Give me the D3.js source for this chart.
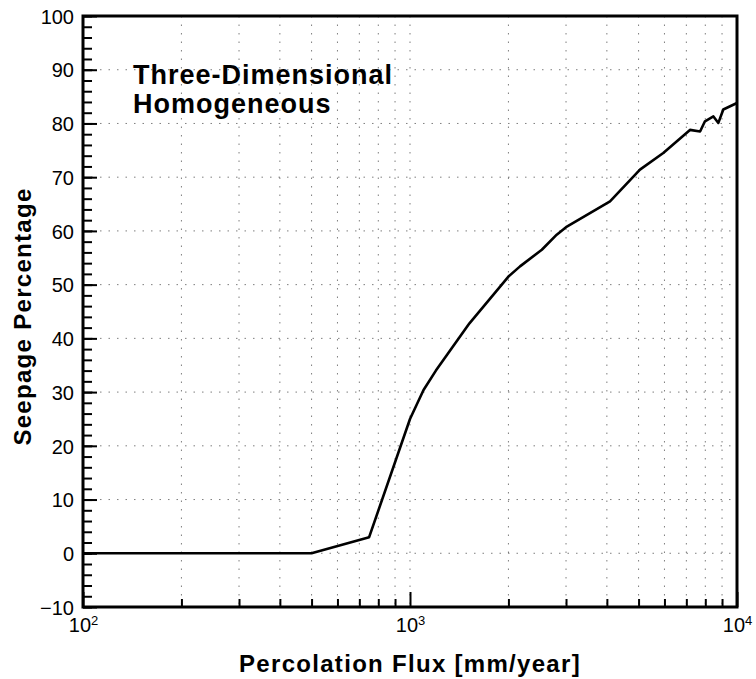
<!DOCTYPE html>
<html>
<head>
<meta charset="utf-8">
<script src="https://cdn.jsdelivr.net/npm/d3@7"></script>
<style>
  body { margin: 0; background: #fff; }
  svg text { font-family: "Liberation Sans", Arial, sans-serif; fill: #000; }
  .axis path { display: none; }
  .axis line { stroke: #000; stroke-width: 2; }
  .grid line { stroke: #000; stroke-width: 1; stroke-dasharray: 1.5,7; opacity: 0.5; }
</style>
</head>
<body>
<svg id="chart" width="756" height="679"></svg>
<script>
// Seepage curve
const flux = [100, 500, 750, 1000, 1100, 1200, 1300, 1520, 2000, 2170, 2530, 2810, 3000, 4090, 5050, 5950, 7180, 7710, 7980, 8470, 8770, 9080, 10000];
const seepage = [0, 0, 3, 25, 30.4, 34, 37, 42.8, 51.5, 53.4, 56.5, 59.3, 60.7, 65.5, 71.4, 74.5, 78.8, 78.5, 80.4, 81.3, 80.1, 82.6, 83.8];

const yMajor = [-10, 0, 10, 20, 30, 40, 50, 60, 70, 80, 90, 100];
const xMajor = [100, 1000, 10000];
const xMinor = [200, 300, 400, 500, 600, 700, 800, 900, 2000, 3000, 4000, 5000, 6000, 7000, 8000, 9000];

const title = ["Three-Dimensional", "Homogeneous"];
const xTitle = "Percolation Flux [mm/year]";
const yTitle = "Seepage Percentage";

const width = 756, height = 679;
const margin = { left: 83, right: 19, top: 16, bottom: 72 };
const drawWidth = width - margin.left - margin.right;
const drawHeight = height - margin.top - margin.bottom;

const svg = d3.select("#chart");
const g = svg.append("g").attr("transform", `translate(${margin.left},${margin.top})`);

const xScale = d3.scaleLog().domain([100, 10000]).range([0, drawWidth]);
const yScale = d3.scaleLinear().domain([-10, 100]).range([drawHeight, 0]);

// dotted grid
g.append("g").attr("class", "grid")
    .selectAll("line").data(xMinor.concat([1000])).enter().append("line")
    .attr("x1", d => xScale(d)).attr("x2", d => xScale(d))
    .attr("y1", 0).attr("y2", drawHeight);
g.append("g").attr("class", "grid")
    .selectAll("line").data(yMajor.slice(1, -1)).enter().append("line")
    .attr("x1", 0).attr("x2", drawWidth)
    .attr("y1", d => yScale(d)).attr("y2", d => yScale(d));

// y axis (ticks point inward)
const yMinorAxis = d3.axisLeft(yScale).tickValues(d3.range(-10, 101, 2)).tickFormat("").tickSizeInner(-9).tickSizeOuter(0);
g.append("g").attr("class", "axis").call(yMinorAxis);
const yAxis = d3.axisLeft(yScale).tickValues(yMajor).tickSizeInner(-14).tickSizeOuter(0).tickPadding(9);
g.append("g").attr("class", "axis").call(yAxis)
    .selectAll("text").attr("font-size", 20).attr("dy", "0.36em");

// x axis
const xMinorAxis = d3.axisBottom(xScale).tickValues(xMinor).tickFormat("").tickSizeInner(-8).tickSizeOuter(0);
g.append("g").attr("class", "axis").attr("transform", `translate(0,${drawHeight})`).call(xMinorAxis);
const xAxis = d3.axisBottom(xScale).tickValues(xMajor).tickSizeInner(-15).tickSizeOuter(0).tickPadding(11);
g.append("g").attr("class", "axis").attr("transform", `translate(0,${drawHeight})`).call(xAxis)
    .selectAll("text")
    .attr("font-size", 20)
    .each(function (d) {
        const t = d3.select(this).text("10");
        t.append("tspan").attr("dy", "-0.55em").attr("font-size", 13).text(Math.round(Math.log10(d)));
    });

// curve
const line = d3.line().x((d, i) => xScale(flux[i])).y(d => yScale(d));
g.append("path").datum(seepage)
    .attr("d", line)
    .attr("fill", "none")
    .attr("stroke", "#000")
    .attr("stroke-width", 2.6)
    .attr("stroke-linejoin", "round");

// frame
g.append("rect").attr("width", drawWidth).attr("height", drawHeight)
    .attr("fill", "none").attr("stroke", "#000").attr("stroke-width", 3);

// inset label
g.append("text")
    .attr("font-size", 27).attr("font-weight", "bold").attr("letter-spacing", 1)
    .selectAll("tspan").data(title).enter().append("tspan")
    .attr("x", 50).attr("y", (d, i) => 68 + i * 29)
    .text(d => d);

// axis titles
svg.append("text")
    .attr("x", margin.left + drawWidth / 2).attr("y", height - 7)
    .attr("text-anchor", "middle").attr("font-size", 24).attr("font-weight", "bold").attr("letter-spacing", 1.3)
    .text(xTitle);
svg.append("text")
    .attr("transform", `translate(31,${margin.top + drawHeight / 2 + 5}) rotate(-90)`)
    .attr("text-anchor", "middle").attr("font-size", 24).attr("font-weight", "bold").attr("letter-spacing", 1.3)
    .text(yTitle);
</script>
</body>
</html>
